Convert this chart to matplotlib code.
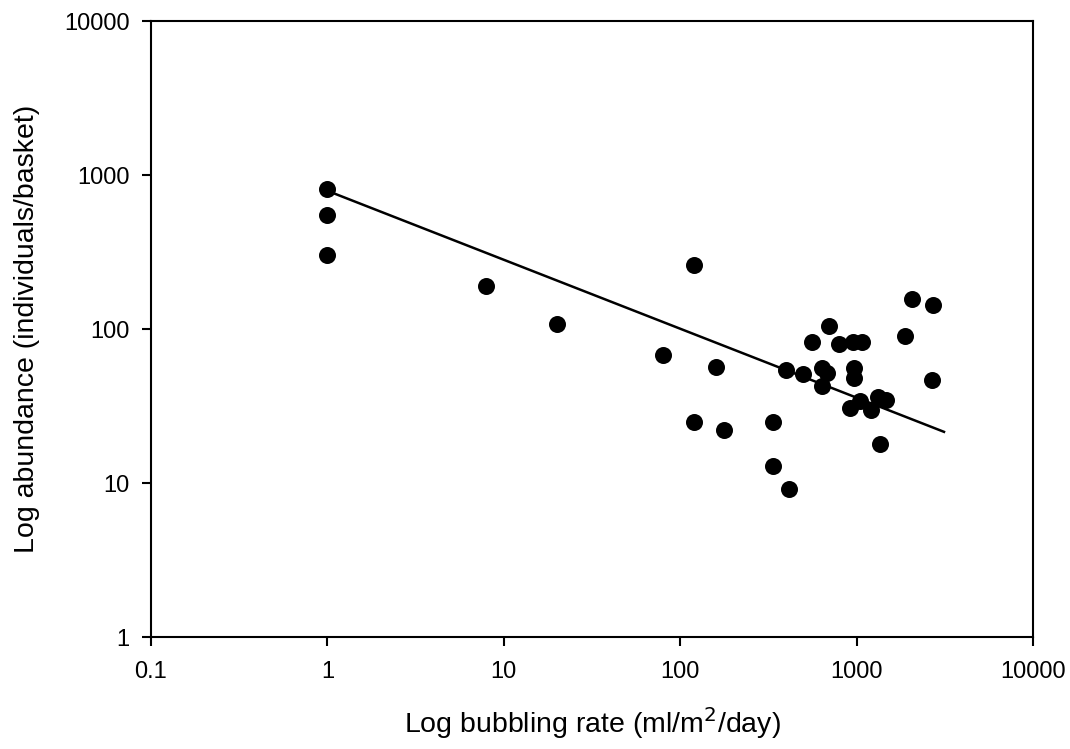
import matplotlib
matplotlib.use("Agg")
import matplotlib.pyplot as plt
from matplotlib.ticker import FixedLocator, FixedFormatter, NullLocator

plt.rcParams['font.family'] = ['Liberation Sans', 'DejaVu Sans']

# bubbling rate (ml/m2/day) and abundance (individuals/basket)
bubbling = [1, 1, 1, 7.9, 20, 80, 120, 120, 160, 178, 337, 337, 416, 396, 499,
            556, 700, 794, 957, 1069, 634, 676, 634, 970, 970, 918, 1045, 1207,
            1327, 1468, 1359, 1879, 2070, 2700, 2680]
abundance = [811, 550, 302, 190, 108, 67.5, 259, 24.8, 56.4, 22, 24.9, 12.9, 9.1,
             54.2, 51, 82.7, 105, 80, 82, 82, 55.6, 51.6, 42.8, 55.6, 48.3, 30.5,
             34.2, 29.8, 36.3, 34.6, 17.9, 90.4, 157, 143, 46.7]

# regression line end points
fit_x = [1, 3130]
fit_y = [790, 21.5]

xticks = [0.1, 1, 10, 100, 1000, 10000]
xtick_labels = ['0.1', '1', '10', '100', '1000', '10000']
yticks = [1, 10, 100, 1000, 10000]
ytick_labels = ['1', '10', '100', '1000', '10000']

fig = plt.figure(figsize=(10.7, 7.49), dpi=100)
ax = fig.add_axes([0.1411, 0.1495, 0.8243, 0.8224])

ax.plot(fit_x, fit_y, color='black', lw=1.8, zorder=2)
ax.scatter(bubbling, abundance, s=150, color='black', zorder=3, linewidths=0)

ax.set_xscale('log')
ax.set_yscale('log')
ax.set_xlim(0.1, 10000)
ax.set_ylim(1, 10000)

ax.xaxis.set_major_locator(FixedLocator(xticks))
ax.xaxis.set_major_formatter(FixedFormatter(xtick_labels))
ax.yaxis.set_major_locator(FixedLocator(yticks))
ax.yaxis.set_major_formatter(FixedFormatter(ytick_labels))
ax.xaxis.set_minor_locator(NullLocator())
ax.yaxis.set_minor_locator(NullLocator())

ax.tick_params(direction='out', length=6.5, width=1.5, labelsize=17)
ax.tick_params(axis='x', pad=11)
ax.tick_params(axis='y', pad=9)
for s in ax.spines.values():
    s.set_linewidth(1.5)

ax.set_xlabel('Log bubbling rate (ml/m$^2$/day)', fontsize=20.5, labelpad=16)
ax.set_ylabel('Log abundance (individuals/basket)', fontsize=20.5, labelpad=17)

fig.savefig('out.png', dpi=100)
